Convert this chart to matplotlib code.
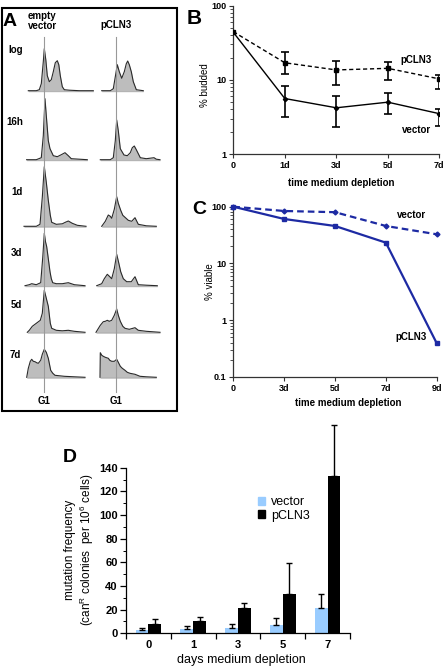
import matplotlib
matplotlib.use('Agg')
import matplotlib.pyplot as plt
import numpy as np
from matplotlib.patches import Rectangle, Patch
from matplotlib.ticker import LogLocator, NullFormatter, FixedLocator, MultipleLocator

plt.rcParams['font.family'] = ['Liberation Sans', 'DejaVu Sans']
plt.rcParams['mathtext.fontset'] = 'custom'
plt.rcParams['mathtext.rm'] = 'Liberation Sans'
plt.rcParams['mathtext.it'] = 'Liberation Sans:italic'
plt.rcParams['mathtext.bf'] = 'Liberation Sans:bold'

# ---------------- Panel A data: flow cytometry histograms ----------------
# channel relative to G1 peak, cell counts (arbitrary units)
row_labels = ['log', '16h', '1d', '3d', '5d', '7d']

vec_log_ch = [-16, -8, -5, -3, -1, 0, 1.5, 3, 5, 7, 9, 11, 13, 14.5, 16, 18, 20, 25, 35, 49]
vec_log_n = [1, 1, 2, 8, 30, 43, 32, 16, 10, 12, 20, 29, 31, 27, 16, 5, 2, 1.5, 1, 1]
pcl_log_ch = [-14.6, -6, -3, -1, 1, 3, 5.4, 8, 10, 11.4, 13, 15, 17, 20, 27]
pcl_log_n = [1, 1, 3, 15, 27, 20, 13.4, 20, 28, 30.7, 27, 20, 10, 2, 1]

vec_16h_ch = [-17.7, -8, -3, -1, 0.7, 2, 4, 5.7, 9, 13, 17, 20.7, 24, 27, 35, 43]
vec_16h_n = [1, 1, 3, 25, 62, 45, 20, 12, 5, 4, 6, 8, 5, 2, 1.5, 1]
pcl_16h_ch = [-16, -6, -3, -1, 0.4, 2, 4, 7.7, 11, 14, 16, 18, 20, 24, 30, 37.7, 40, 43.7]
pcl_16h_n = [1, 1, 3, 20, 40.7, 30, 12, 5.7, 5, 8, 13, 14.7, 11, 3, 2, 3, 1.5, 1]

vec_1d_ch = [-20.3, -8, -4.3, -2, 0, 2, 4, 6, 7.4, 12, 18, 21, 24, 28, 33, 41.7]
vec_1d_n = [1, 1, 3, 30, 60.6, 45, 27, 12, 5, 3, 3.5, 5, 6.3, 4, 2, 1]
pcl_1d_ch = [-14.6, -11, -8, -6, -4.6, -2, 0.4, 2, 4.4, 6.5, 8.7, 12, 15.4, 18.7, 20.5, 22, 30, 40]
pcl_1d_n = [1, 6, 12.3, 11, 9, 18, 30.6, 24, 17, 12, 10, 7, 6, 9.6, 6, 3, 1.5, 1]

vec_3d_ch = [-19.3, -15, -12.6, -8, -3.6, -1.5, 0, 1.2, 2.4, 4, 5.7, 7, 8.4, 12, 18, 24, 30, 40.7]
vec_3d_n = [1, 2, 3, 2, 4, 30, 53.4, 45, 40, 28, 15, 8, 4, 3, 3, 4, 2, 1]
pcl_3d_ch = [-19.6, -14.6, -12, -9, -6.5, -4.6, -2, 0.4, 2.4, 4.4, 7, 10.4, 15, 18.7, 22, 30, 41]
pcl_3d_n = [1, 3, 8, 12.4, 10, 8, 18, 32.4, 24, 15, 8, 5, 5, 10, 2, 1.5, 1]

vec_5d_ch = [-17, -15, -12, -8, -4, -2, 0, 2, 4, 6, 7.4, 12, 18, 24, 30, 40.7]
vec_5d_n = [1, 3, 7, 10, 13, 20, 43, 35, 27, 10, 5, 3, 2.5, 3, 2, 1]
pcl_5d_ch = [-20.3, -16, -13, -11, -9, -7, -4.6, -2, 0.4, 2, 4, 6.5, 8.7, 13, 18.7, 22, 30, 43.7]
pcl_5d_n = [1, 8, 11.6, 12, 13, 12, 13, 18, 24.3, 18, 12, 7, 5, 4, 5.6, 3, 2, 1]

vec_7d_ch = [-17.6, -16, -14, -12.6, -11, -9.3, -7.5, -6, -3.6, -2, 0, 2, 4, 6.4, 8.5, 10.7, 20, 30, 40.7]
vec_7d_n = [1, 10, 17, 19, 17, 16.6, 15.5, 15, 18, 24, 29, 26, 20, 8, 5, 3, 2, 1.5, 1]
pcl_7d_ch = [-16.3, -16, -14.5, -13, -11, -8, -6.5, -4.6, -2, 0.4, 2, 4, 6, 8.7, 11, 13.7, 18.7, 23.7, 30, 40]
pcl_7d_n = [1, 25.6, 23, 22, 21, 20, 18, 17, 17, 19, 16, 12, 10, 8, 6, 5, 4, 2, 1.5, 1]

vec_hists = [(vec_log_ch, vec_log_n), (vec_16h_ch, vec_16h_n), (vec_1d_ch, vec_1d_n),
             (vec_3d_ch, vec_3d_n), (vec_5d_ch, vec_5d_n), (vec_7d_ch, vec_7d_n)]
pcl_hists = [(pcl_log_ch, pcl_log_n), (pcl_16h_ch, pcl_16h_n), (pcl_1d_ch, pcl_1d_n),
             (pcl_3d_ch, pcl_3d_n), (pcl_5d_ch, pcl_5d_n), (pcl_7d_ch, pcl_7d_n)]

# ---------------- Panel B data: % budded ----------------
b_times = ['0', '1d', '3d', '5d', '7d']
b_pcln3 = [44.6, 17.0, 13.6, 14.3, 10.3]
b_pcln3_lo = [44.6, 12.0, 8.5, 9.95, 7.5]
b_pcln3_hi = [44.6, 23.5, 17.9, 17.3, 11.5]
b_vector = [43.8, 5.6, 4.2, 5.0, 3.5]
b_vector_lo = [43.8, 3.2, 2.3, 3.5, 2.4]
b_vector_hi = [43.8, 8.3, 6.1, 6.6, 4.1]

# ---------------- Panel C data: % viable ----------------
c_times = ['0', '3d', '5d', '7d', '9d']
c_vector = [100, 84, 80, 45.7, 32.6]
c_pcln3 = [100, 60.7, 45.7, 23.2, 0.39]

# ---------------- Panel D data: mutation frequency ----------------
d_days = ['0', '1', '3', '5', '7']
d_vector = [2.8, 3.6, 4.8, 7.0, 21.7]
d_vector_err = [1.4, 2.6, 3.1, 6.0, 11.3]
d_pcln3 = [7.6, 10.7, 21.1, 33.0, 133.0]
d_pcln3_err = [4.5, 3.4, 4.3, 26.7, 43.0]

W, H = 446, 668
fig = plt.figure(figsize=(W / 100, H / 100), dpi=100)


def fbox(x0, y0, x1, y1):
    return [x0 / W, 1 - y1 / H, (x1 - x0) / W, (y1 - y0) / H]


BOLD = dict(fontweight='bold')

# ---------------- Panel A ----------------
g1_x = [44.3, 116.3]
baselines = [91.7, 160.7, 227.3, 286.7, 333.3, 378.3]
for col, hists in enumerate([vec_hists, pcl_hists]):
    for r, (ch, n) in enumerate(hists):
        gx = g1_x[col]
        b = baselines[r]
        ax = fig.add_axes(fbox(gx - 22, b - 65, gx + 50, b))
        ax.fill_between(ch, 0, n, color='#bdbdbd', lw=0)
        ax.plot(ch, n, color='#2a2a2a', lw=0.8)
        ax.plot([ch[0], ch[-1]], [0, 0], color='#2a2a2a', lw=0.8)
        ax.set_xlim(-22, 50)
        ax.set_ylim(0, 65)
        ax.axis('off')

ov = fig.add_axes([0, 0, 1, 1], zorder=10)
ov.set_xlim(0, W)
ov.set_ylim(H, 0)
ov.axis('off')
ov.add_patch(Rectangle((1.5, 8), 175.5, 403, fill=False, lw=1.5, ec='black'))
for gx in g1_x:
    ov.plot([gx, gx], [37, 392], color='#999999', lw=0.8)
    ov.text(gx, 401, 'G1', ha='center', va='center', fontsize=7, **BOLD)
ov.text(3, 22, 'A', ha='left', va='center', fontsize=14, **BOLD)
ov.text(28, 11, 'empty\nvector', ha='left', va='top', fontsize=7, linespacing=0.95, **BOLD)
ov.text(100, 25, 'pCLN3', ha='left', va='center', fontsize=7, **BOLD)
row_xy = [(8, 50), (6, 122), (11, 192), (11, 253), (11, 305), (10, 355)]
for lab, (x, y) in zip(row_labels, row_xy):
    ov.text(x, y, lab, ha='left', va='center', fontsize=7, **BOLD)

# ---------------- Panel B ----------------
axB = fig.add_axes(fbox(233.3, 5.7, 439.3, 154))
xb = np.arange(len(b_times))
axB.errorbar(xb[1:], np.array(b_pcln3)[1:],
             yerr=[np.array(b_pcln3)[1:] - np.array(b_pcln3_lo)[1:],
                   np.array(b_pcln3_hi)[1:] - np.array(b_pcln3)[1:]],
             fmt='none', ecolor='black', elinewidth=1.2, capsize=3, capthick=1.2, zorder=3)
axB.errorbar(xb[1:], np.array(b_vector)[1:],
             yerr=[np.array(b_vector)[1:] - np.array(b_vector_lo)[1:],
                   np.array(b_vector_hi)[1:] - np.array(b_vector)[1:]],
             fmt='none', ecolor='black', elinewidth=1.2, capsize=3, capthick=1.2, zorder=3)
axB.plot(xb, b_pcln3, ls=(0, (3, 2)), color='black', lw=1, marker='s', ms=3.2, zorder=4)
axB.plot(xb, b_vector, ls='-', color='black', lw=1, marker='D', ms=2.2, zorder=4)
axB.set_yscale('log')
axB.set_ylim(1, 100)
axB.set_xlim(0, 4)
axB.set_xticks(xb, b_times)
axB.set_yticks([1, 10, 100], ['1', '10', '100'])
axB.yaxis.set_minor_locator(LogLocator(base=10, subs=np.arange(2, 10)))
axB.yaxis.set_minor_formatter(NullFormatter())
axB.tick_params(axis='both', which='major', labelsize=6.5, length=3, width=0.8, pad=2, color='#333333')
axB.tick_params(axis='y', which='minor', length=2, width=0.6, color='#333333')
for lab in axB.get_xticklabels() + axB.get_yticklabels():
    lab.set_fontweight('bold')
for s in ['top', 'right']:
    axB.spines[s].set_visible(False)
for s in ['left', 'bottom']:
    axB.spines[s].set_linewidth(0.9)
    axB.spines[s].set_color('#333333')
axB.set_clip_on(False)
ov.text(187, 18, 'B', ha='left', va='center', fontsize=15, **BOLD)
ov.text(205, 85, '% budded', ha='center', va='center', rotation=90, fontsize=7)
ov.text(400, 60, 'pCLN3', ha='left', va='center', fontsize=7, **BOLD)
ov.text(402, 130, 'vector', ha='left', va='center', fontsize=7, **BOLD)
ov.text(341, 183, 'time medium depletion', ha='center', va='center', fontsize=7, **BOLD)

# ---------------- Panel C ----------------
blue = '#1d2aa3'
axC = fig.add_axes(fbox(233.3, 206.7, 436.7, 376.7))
xc = np.arange(len(c_times))
axC.plot(xc, c_vector, ls=(0, (3, 1.8)), color=blue, lw=1.6, marker='D', ms=2.5, zorder=4, clip_on=False)
axC.plot(xc, c_pcln3, ls='-', color=blue, lw=1.6, marker='s', ms=3.2, zorder=4, clip_on=False)
axC.set_yscale('log')
axC.set_ylim(0.1, 100)
axC.set_xlim(0, 4)
axC.set_xticks(xc, c_times)
axC.set_yticks([0.1, 1, 10, 100], ['0.1', '1', '10', '100'])
axC.yaxis.set_minor_locator(LogLocator(base=10, subs=np.arange(2, 10)))
axC.yaxis.set_minor_formatter(NullFormatter())
axC.tick_params(axis='both', which='major', labelsize=6.5, length=3, width=0.8, pad=2, color='#333333')
axC.tick_params(axis='y', which='minor', length=2, width=0.6, color='#333333')
for lab in axC.get_xticklabels() + axC.get_yticklabels():
    lab.set_fontweight('bold')
for s in ['top', 'right']:
    axC.spines[s].set_visible(False)
for s in ['left', 'bottom']:
    axC.spines[s].set_linewidth(0.9)
    axC.spines[s].set_color('#333333')
ov.text(192, 209, 'C', ha='left', va='center', fontsize=14, **BOLD)
ov.text(210, 282, '% viable', ha='center', va='center', rotation=90, fontsize=7)
ov.text(397, 215, 'vector', ha='left', va='center', fontsize=7, **BOLD)
ov.text(395, 337, 'pCLN3', ha='left', va='center', fontsize=7, **BOLD)
ov.text(348, 403, 'time medium depletion', ha='center', va='center', fontsize=7, **BOLD)

# ---------------- Panel D ----------------
axD = fig.add_axes(fbox(126, 467.7, 350, 633.3))
xd = np.arange(len(d_days))
bw = 0.285
axD.bar(xd - bw / 2, d_vector, width=bw, color='#99ccff', edgecolor='none', label='vector', zorder=2)
axD.bar(xd + bw / 2, d_pcln3, width=bw, color='black', edgecolor='none', label='pCLN3', zorder=2)
axD.errorbar(xd - bw / 2, d_vector, yerr=[np.zeros(5), d_vector_err], fmt='none', ecolor='black',
             elinewidth=1, capsize=2, capthick=1, zorder=3, clip_on=False)
ebp = axD.errorbar(xd + bw / 2, d_pcln3, yerr=[np.zeros(5), d_pcln3_err], fmt='none', ecolor='black',
                   elinewidth=1, capsize=2, capthick=1, zorder=3)
for art in ebp.lines[1] + ebp.lines[2]:
    art.set_clip_on(False)
axD.set_xlim(-0.5, 4.5)
axD.set_ylim(0, 140)
axD.set_xticks(xd, d_days)
axD.xaxis.set_minor_locator(FixedLocator(np.arange(-0.5, 5, 1)))
axD.tick_params(axis='x', which='major', length=0, labelsize=8, pad=5)
axD.tick_params(axis='x', which='minor', length=4, width=0.9)
axD.set_yticks(np.arange(0, 141, 20))
axD.yaxis.set_minor_locator(MultipleLocator(10))
axD.tick_params(axis='y', which='major', length=4, width=0.9, labelsize=8, pad=2)
axD.tick_params(axis='y', which='minor', length=2, width=0.7)
for lab in axD.get_xticklabels() + axD.get_yticklabels():
    lab.set_fontweight('bold')
for s in ['top', 'right']:
    axD.spines[s].set_visible(False)
for s in ['left', 'bottom']:
    axD.spines[s].set_linewidth(0.9)
ov.text(63, 457, 'D', ha='left', va='center', fontsize=14, **BOLD)
ov.text(80, 550, 'mutation frequency\n(can$^{\\rm R}$ colonies  per 10$^{\\rm 6}$ cells)', ha='center',
        va='center', rotation=90, fontsize=8.5, linespacing=1.1)
ov.text(241, 660, 'days medium depletion', ha='center', va='center', fontsize=9)
fig.legend(handles=[Patch(color='#99ccff', label='vector'), Patch(color='black', label='pCLN3')],
           loc='center left', bbox_to_anchor=(252 / W, 1 - 509 / H), frameon=False, fontsize=9,
           handlelength=0.55, handleheight=0.55, handletextpad=0.5, labelspacing=0.1, borderpad=0)

fig.savefig('out.png', dpi=100)
